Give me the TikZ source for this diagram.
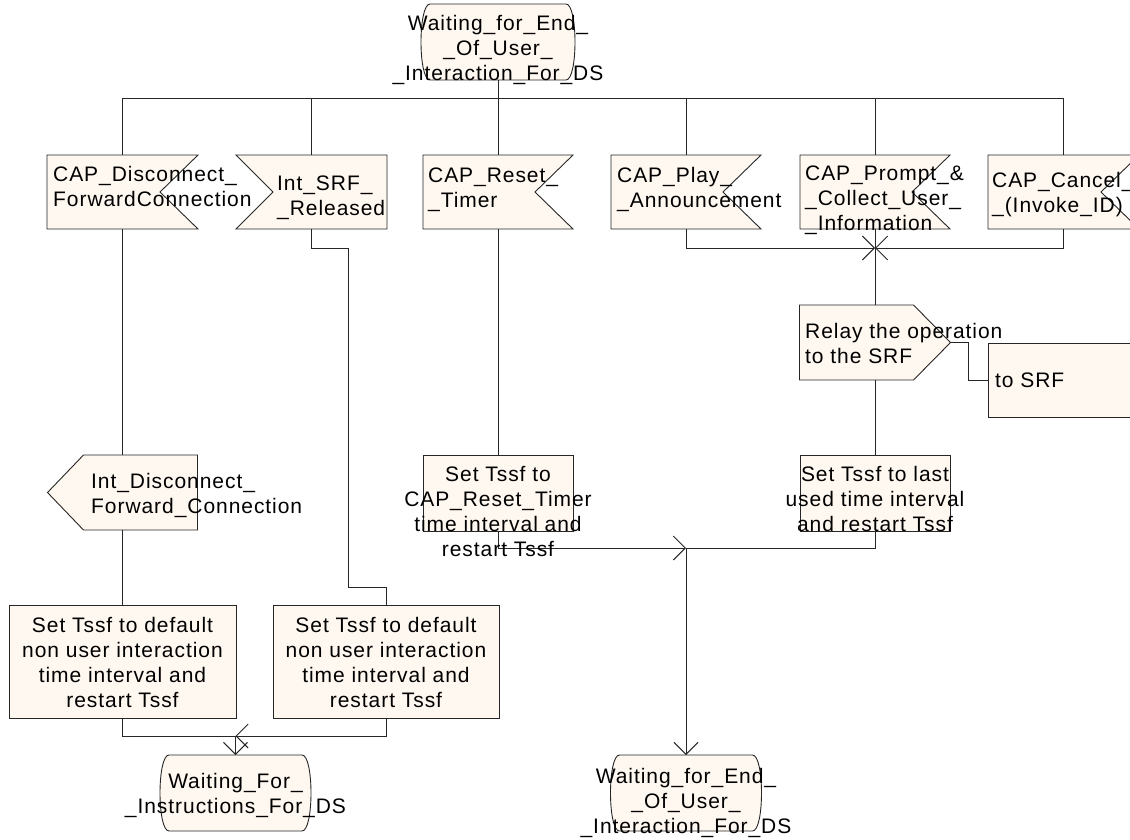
\documentclass[tikz,border=0pt]{standalone}
\usepackage{fontspec}
\setmainfont{Liberation Sans}[LetterSpace=4.5]
\usetikzlibrary{arrows.meta}
\definecolor{sdlfill}{RGB}{255,248,240}
\newcommand\sdlstate[1]{\draw[outl] ([xshift=9pt]#1.north west) -- ([xshift=-9pt]#1.north east)
  .. controls ([xshift=3pt]#1.north east) and ([xshift=3pt]#1.south east) .. ([xshift=-9pt]#1.south east)
  -- ([xshift=9pt]#1.south west)
  .. controls ([xshift=-3pt]#1.south west) and ([xshift=-3pt]#1.north west) .. cycle;}
\newcommand\sdlinr[1]{\draw[outl] (#1.north west) -- (#1.north east) -- ([xshift=-38pt]#1.east) -- (#1.south east) -- (#1.south west) -- cycle;}
\newcommand\sdlinl[1]{\draw[outl] (#1.north west) -- (#1.north east) -- (#1.south east) -- (#1.south west) -- ([xshift=37pt]#1.west) -- cycle;}
\newcommand\sdloutr[1]{\draw[outl] (#1.north west) -- ([xshift=-37pt]#1.north east) -- (#1.east) -- ([xshift=-37pt]#1.south east) -- (#1.south west) -- cycle;}
\newcommand\sdloutl[1]{\draw[outl] ([xshift=36pt]#1.north west) -- (#1.north east) -- (#1.south east) -- ([xshift=36pt]#1.south west) -- (#1.west) -- cycle;}
\newcommand\sdltask[1]{\draw[outl] (#1.north west) rectangle (#1.south east);}
\begin{document}
\begin{tikzpicture}[x=1pt,y=-1pt,
  shp/.style={draw=none, fill=none, inner sep=0, outer sep=0},
  outl/.style={draw=black!85, line width=0.9pt, fill=sdlfill},
  con/.style={draw=black!85, line width=0.9pt},
  arr/.style={-{Straight Barb[length=12pt,width=24pt,line width=0.9pt]}},
  lbl/.style={inner sep=0, font=\fontsize{21}{25}\selectfont},
  lbll/.style={lbl, align=left, anchor=base west},
  lblc/.style={lbl, align=center, anchor=base},
]
\useasboundingbox (0,0) rectangle (1130,839);
% shapes
\node[shp, minimum width=154pt, minimum height=76pt] (top) at (498,42) {};
\node[shp, minimum width=151pt, minimum height=74pt] (disc) at (122.5,192) {};
\node[shp, minimum width=151pt, minimum height=74pt] (srf) at (311.5,192) {};
\node[shp, minimum width=150pt, minimum height=74pt] (reset) at (498,192) {};
\node[shp, minimum width=150pt, minimum height=74pt] (play) at (686,192) {};
\node[shp, minimum width=150pt, minimum height=74pt] (prompt) at (875,192) {};
\node[shp, minimum width=151pt, minimum height=74pt] (cancel) at (1063.5,192) {};
\node[shp, minimum width=151pt, minimum height=75pt] (relay) at (875,342.5) {};
\node[shp, minimum width=152pt, minimum height=74pt] (tosrf) at (1064,380) {};
\node[shp, minimum width=150pt, minimum height=75pt] (intdisc) at (122.5,492.5) {};
\node[shp, minimum width=150pt, minimum height=76pt] (set1) at (498,493) {};
\node[shp, minimum width=150pt, minimum height=76pt] (set2) at (875,493) {};
\node[shp, minimum width=227pt, minimum height=113pt] (def1) at (122.5,661.5) {};
\node[shp, minimum width=226pt, minimum height=113pt] (def2) at (386,661.5) {};
\node[shp, minimum width=151pt, minimum height=76pt] (wfi) at (235.5,793) {};
\node[shp, minimum width=151pt, minimum height=76pt] (wfe) at (686,793) {};
\coordinate (j1) at (235.5,736);
\coordinate (j2) at (686,548);
\coordinate (j3) at (875,248);
\coordinate (bend) at (348,587);
\sdlstate{top}
\sdlinr{disc}
\sdlinl{srf}
\sdlinr{reset}
\sdlinr{play}
\sdlinr{prompt}
\sdlinr{cancel}
\sdloutr{relay}
\sdltask{tosrf}
\sdloutl{intdisc}
\sdltask{set1}
\sdltask{set2}
\sdltask{def1}
\sdltask{def2}
\sdlstate{wfi}
\sdlstate{wfe}
% connectors
\draw[con] (top.south) -- ++(0,18) coordinate (split);
\draw[con] (split) -| (disc.north);
\draw[con] (split) -| (srf.north);
\draw[con] (split) -- (reset.north);
\draw[con] (split) -| (play.north);
\draw[con] (split) -| (prompt.north);
\draw[con] (split) -| (cancel.north);
\draw[con] (disc.south) -- (intdisc.north);
\draw[con] (intdisc.south) -- (def1.north);
\draw[con] (def1.south) |- (j1);
\draw[con,arr] (def2.south) |- (j1);
\draw[con,arr] (j1) -- (wfi.north);
\draw[con] (srf.south) -- ++(0,19) -| (bend) -| (def2.north);
\draw[con] (reset.south) -- (set1.north);
\draw[con,arr] (set1.south) |- (j2);
\draw[con] (set2.south) |- (j2);
\draw[con,arr] (j2) -- (wfe.north);
\draw[con,arr] (play.south) |- (j3);
\draw[con,arr] (cancel.south) |- (j3);
\draw[con] (prompt.south) -- (relay.north);
\draw[con] (relay.east) -- ++(18,0) |- (tosrf.west);
\draw[con] (relay.south) -- (set2.north);
% texts (anchor = baseline of the last line)
\node[lblc] (ttop) at (498,80) {Waiting\_for\_End\_\\\_Of\_User\_\\\_Interaction\_For\_DS};
\node[lbll] (tdisc) at (53,206) {CAP\_Disconnect\_\\ForwardConnection};
\node[lbll] (tsrf) at (277,215) {Int\_SRF\_\\\_Released};
\node[lbll] (treset) at (428,207) {CAP\_Reset\_\\\_Timer};
\node[lbll] (tplay) at (617,207) {CAP\_Play\_\\\_Announcement};
\node[lbll] (tprompt) at (805,230) {CAP\_Prompt\_\&\\\_Collect\_User\_\\\_Information};
\node[lbll] (tcancel) at (992,212) {CAP\_Cancel\_\\\_(Invoke\_ID)};
\node[lbll] (trelay) at (805,363) {Relay the operation\\to the SRF};
\node[lbll] (ttosrf) at (995,387) {to SRF};
\node[lbll] (tintdisc) at (91,513) {Int\_Disconnect\_\\Forward\_Connection};
\node[lblc] (tset1) at (498,556) {Set Tssf to\\CAP\_Reset\_Timer\\time interval and\\restart Tssf};
\node[lblc] (tset2) at (875,531) {Set Tssf to last\\used time interval\\and restart Tssf};
\node[lblc] (tdef1) at (122.5,707) {Set Tssf to default\\non user interaction\\time interval and\\restart Tssf};
\node[lblc] (tdef2) at (386,707) {Set Tssf to default\\non user interaction\\time interval and\\restart Tssf};
\node[lblc] (twfi) at (235.5,813) {Waiting\_For\_\\\_Instructions\_For\_DS};
\node[lblc] (twfe) at (686,833) {Waiting\_for\_End\_\\\_Of\_User\_\\\_Interaction\_For\_DS};
\end{tikzpicture}
\end{document}
